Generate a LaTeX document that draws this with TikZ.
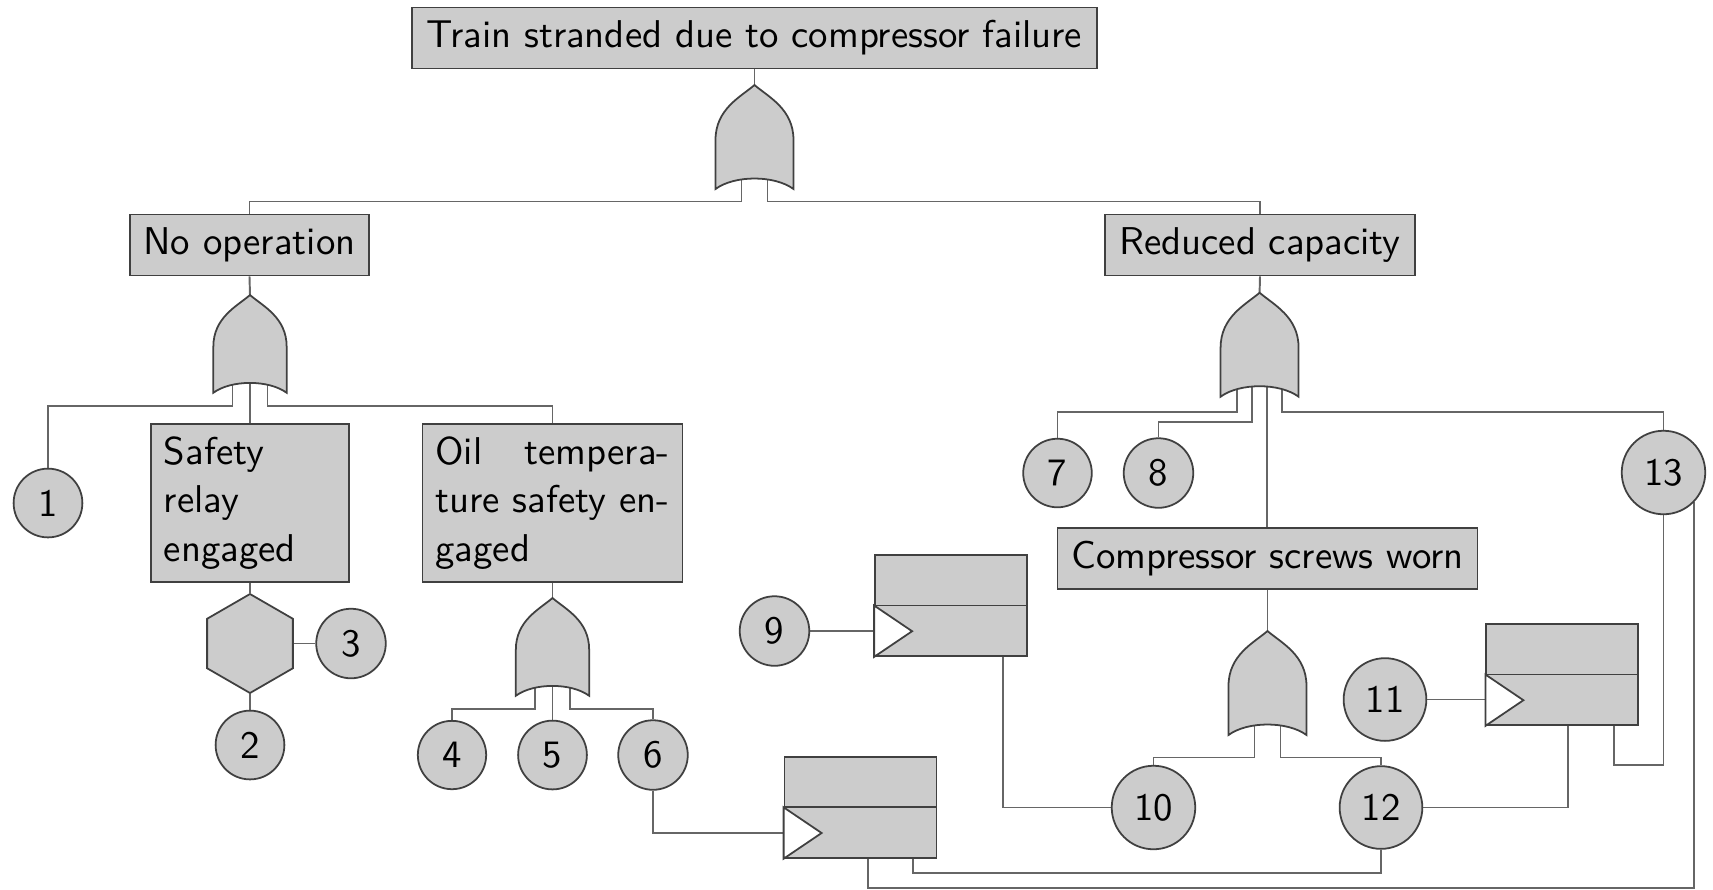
\documentclass[tikz,border=0pt]{standalone}
\usetikzlibrary{calc,shapes.geometric}

\newdimen\pxu
\pxu=0.2825pt

\definecolor{gatefill}{gray}{0.8}
\definecolor{lineclr}{gray}{0.25}
\definecolor{wireclr}{gray}{0.4}

\pgfdeclarelayer{wires}
\pgfsetlayers{wires,main}

\tikzset{
  every node/.style={font=\fontsize{10.95}{13.6}\selectfont\sffamily},
  shapeline/.style={draw=lineclr, line width=0.5pt},
  event/.style={shapeline, fill=gatefill, rectangle, inner sep=3.65pt, minimum height=61*\pxu},
  basic/.style={shapeline, fill=gatefill, circle, inner sep=3.65pt},
  sparebox/.style={shapeline, fill=gatefill, rectangle, inner sep=0pt,
    minimum width=152*\pxu, minimum height=101*\pxu},
  inhibit/.style={shapeline, fill=gatefill, regular polygon, regular polygon sides=6,
    regular polygon rotate=30, minimum size=99*\pxu, inner sep=0pt},
  wireline/.style={draw=wireclr, line width=0.55pt},
  % OR gate pointing upwards; apex at the origin, inputs on the concave back
  pics/orgate/.style={code={
    \path[shapeline, fill=gatefill]
      (0,0) .. controls (14,12) and (39,24) .. (39,55) -- (39,104)
      .. controls (20,90) and (-20,90) .. (-39,104) -- (-39,55)
      .. controls (-39,24) and (-14,12) .. (0,0) -- cycle;
    \coordinate (-top) at (0,0);
    \coordinate (-i21) at (-13,93.5);
    \coordinate (-i22) at (13,93.5);
    \coordinate (-i31) at (-18.6,93.5);
    \coordinate (-i32) at (0,93.5);
    \coordinate (-i33) at (18.6,93.5);
    \coordinate (-i41) at (-22.2,93.5);
    \coordinate (-i42) at (-7.4,93.5);
    \coordinate (-i43) at (7.4,93.5);
    \coordinate (-i44) at (22.2,93.5);
  }}
}

% two-part box with an input chevron in its lower half
\newcommand{\sparebox}[2]{%
  \node[sparebox] (#1) at (#2) {};
  \draw[shapeline] (#1.west) -- (#1.east);
  \draw[shapeline, fill=white] (#1.west)
    -- ($(#1.west)!0.5!(#1.south west)+(38,0)$) -- (#1.south west) -- cycle;
  \coordinate (#1in) at ($(#1.west)!0.5!(#1.south west)$);
}

\begin{document}
\begin{tikzpicture}[x=0.2825pt, y=-0.2825pt]
\useasboundingbox (0,0) rectangle (1713,889);

% top event and first level
\node[event, minimum width=685*\pxu] (top) at (754.5,38) {Train stranded due to compressor failure};
\pic (g0) at (754.5,85) {orgate};
\node[event, minimum width=239*\pxu] (noop) at (249.5,245) {No operation};
\node[event, minimum width=310*\pxu] (rc) at (1260,245) {Reduced capacity};

% left branch
\pic[scale=0.94] (g1) at (250,295) {orgate};
\node[basic] (c1) at (48,503) {1};
\node[event, text width=48.6pt, minimum height=158*\pxu, align=left] (safety) at (250,503)
  {Safety\\relay\\engaged};
\node[event, text width=66.15pt, minimum height=158*\pxu, align=left] (oil) at (552.5,503)
  {\makebox[\hsize][s]{Oil\hfill tempera-}\\\makebox[\hsize][s]{ture safety en-}\\gaged};
\node[inhibit] (hex) at (250,643.5) {};
\node[basic] (c3) at (351,643.5) {3};
\node[basic] (c2) at (250,745) {2};
\pic[scale=0.94] (g3) at (552.5,598) {orgate};
\node[basic] (c4) at (452,755) {4};
\node[basic] (c5) at (552.5,755) {5};
\node[basic] (c6) at (653,755) {6};

% right branch
\pic (g2) at (1259.6,292.7) {orgate};
\node[basic] (c7) at (1057.5,473) {7};
\node[basic] (c8) at (1158.5,473) {8};
\node[basic] (c13) at (1663.5,472.5) {13};
\node[event, minimum width=420*\pxu] (csw) at (1267.5,558.5) {Compressor screws worn};
\pic (g4) at (1267.5,631) {orgate};
\node[basic] (c9) at (774.5,631) {9};
\node[basic] (c10) at (1153.5,807.5) {10};
\node[basic] (c11) at (1385,699.5) {11};
\node[basic] (c12) at (1381,807.5) {12};

\sparebox{b1}{951,605.5}
\sparebox{b2}{1562.3,674.5}
\sparebox{b3}{860.5,807.3}

\begin{pgfonlayer}{wires}
\draw[wireline] (top.south) -- (g0-top);
\draw[wireline] (g0-i21) -- ++(0,23) -| (noop.north);
\draw[wireline] (g0-i22) -- ++(0,23) -| (rc.north);
\draw[wireline] (noop.south) -- (g1-top);
\draw[wireline] (rc.south) -- (g2-top);

\draw[wireline] (g1-i31) -- ++(0,23) -| (c1.north);
\draw[wireline] (g1-i32) -- (safety.north);
\draw[wireline] (g1-i33) -- ++(0,23) -| (oil.north);
\draw[wireline] (safety.south) -- (hex.north);
\draw[wireline] (hex.east) -- (c3.west);
\draw[wireline] (hex.south) -- (c2.north);
\draw[wireline] (oil.south) -- (g3-top);
\draw[wireline] (g3-i31) -- ++(0,23) -| (c4.north);
\draw[wireline] (g3-i32) -- (c5.north);
\draw[wireline] (g3-i33) -- ++(0,23) -| (c6.north);

\draw[wireline] (g2-i41) -- ++(0,25.5) -| (c7.north);
\draw[wireline] (g2-i42) -- ++(0,36) -| (c8.north);
\draw[wireline] (g2-i43) -- (g2-i43 |- csw.north);
\draw[wireline] (g2-i44) -- ++(0,25.5) -| (c13.north);
\draw[wireline] (csw.south) -- (g4-top);
\draw[wireline] (g4-i21) -- ++(0,33) -| (c10.north);
\draw[wireline] (g4-i22) -- ++(0,33) -| (c12.north);

\draw[wireline] (c9.east) -- (c9.east -| b1.west);
\draw[wireline] ($(b1.south west)+(129,0)$) |- (c10.west);
\draw[wireline] (c11.east) -- (c11.east -| b2.west);
\draw[wireline] ($(b2.south west)+(83,0)$) |- (c12.east);
\draw[wireline] ($(b2.south west)+(128.5,0)$) -- ++(0,39.5) -| (c13.south);
\draw[wireline] (c6.south) |- (b3in);
\draw[wireline] ($(b3.south west)+(84,0)$) -- ++(0,29) -| (c13.-44);
\draw[wireline] ($(b3.south west)+(129,0)$) -- ++(0,14.5) -| (c12.south);
\end{pgfonlayer}
\end{tikzpicture}
\end{document}
